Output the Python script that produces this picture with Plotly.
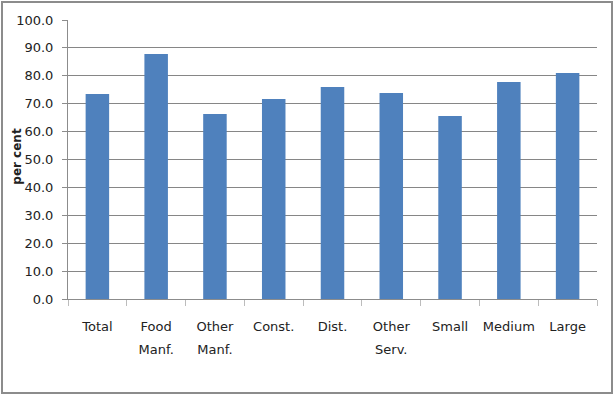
import plotly.graph_objects as go

categories = ["Total", "Food<br>Manf.", "Other<br>Manf.", "Const.", "Dist.",
              "Other<br>Serv.", "Small", "Medium", "Large"]
percent = [73.5, 87.8, 66.3, 71.7, 76.0, 73.8, 65.6, 77.8, 81.0]
y_ticks = [0, 10, 20, 30, 40, 50, 60, 70, 80, 90, 100]

font_family = "DejaVu Sans, Liberation Sans, sans-serif"


def small_lines(label, size=13):
    # wrap every line in a smaller span so the line pitch follows the larger base font
    return "<br>".join(f"<span style='font-size:{size}px'>{part}</span>"
                       for part in label.split("<br>"))


fig = go.Figure(
    go.Bar(
        x=categories,
        y=percent,
        marker=dict(color="#4F81BD", line=dict(width=0)),
        width=0.4,
    )
)

fig.update_layout(
    width=615,
    height=397,
    margin=dict(l=68, r=18, t=20, b=98),
    paper_bgcolor="white",
    plot_bgcolor="white",
    showlegend=False,
    font=dict(family=font_family, size=13, color="#222222"),
    shapes=[
        dict(type="rect", xref="paper", yref="paper",
             x0=-66 / 529, x1=1 + 15 / 529, y0=-94 / 279, y1=1 + 18 / 279,
             line=dict(color="#8c8c8c", width=2), fillcolor="rgba(0,0,0,0)",
             layer="below")
    ],
    annotations=[
        dict(text="<b>per cent</b>", xref="paper", yref="paper",
             x=(17 - 68) / 529, y=0.51, xanchor="center", yanchor="middle",
             textangle=-90, showarrow=False,
             font=dict(size=12, color="#222222"))
    ],
)

fig.update_xaxes(
    type="category",
    tickmode="array",
    tickvals=categories,
    ticktext=[small_lines(c) for c in categories],
    tickangle=0,
    showline=True,
    linecolor="#8c8c8c",
    linewidth=1,
    ticks="outside",
    tickson="boundaries",
    ticklen=6,
    tickcolor="#bcbcbc",
    showgrid=False,
    tickfont=dict(size=18, color="#222222"),
    ticklabelstandoff=9,
)

fig.update_yaxes(
    range=[0, 100],
    tickvals=y_ticks,
    ticktext=[f"{v:.1f}" for v in y_ticks],
    showline=True,
    linecolor="#8c8c8c",
    linewidth=1,
    ticks="outside",
    ticklen=5,
    tickcolor="#8c8c8c",
    showgrid=True,
    gridcolor="#868686",
    gridwidth=1,
    zeroline=False,
    tickfont=dict(size=13, color="#222222"),
    ticklabelstandoff=6,
)

fig.write_html("out.html")
